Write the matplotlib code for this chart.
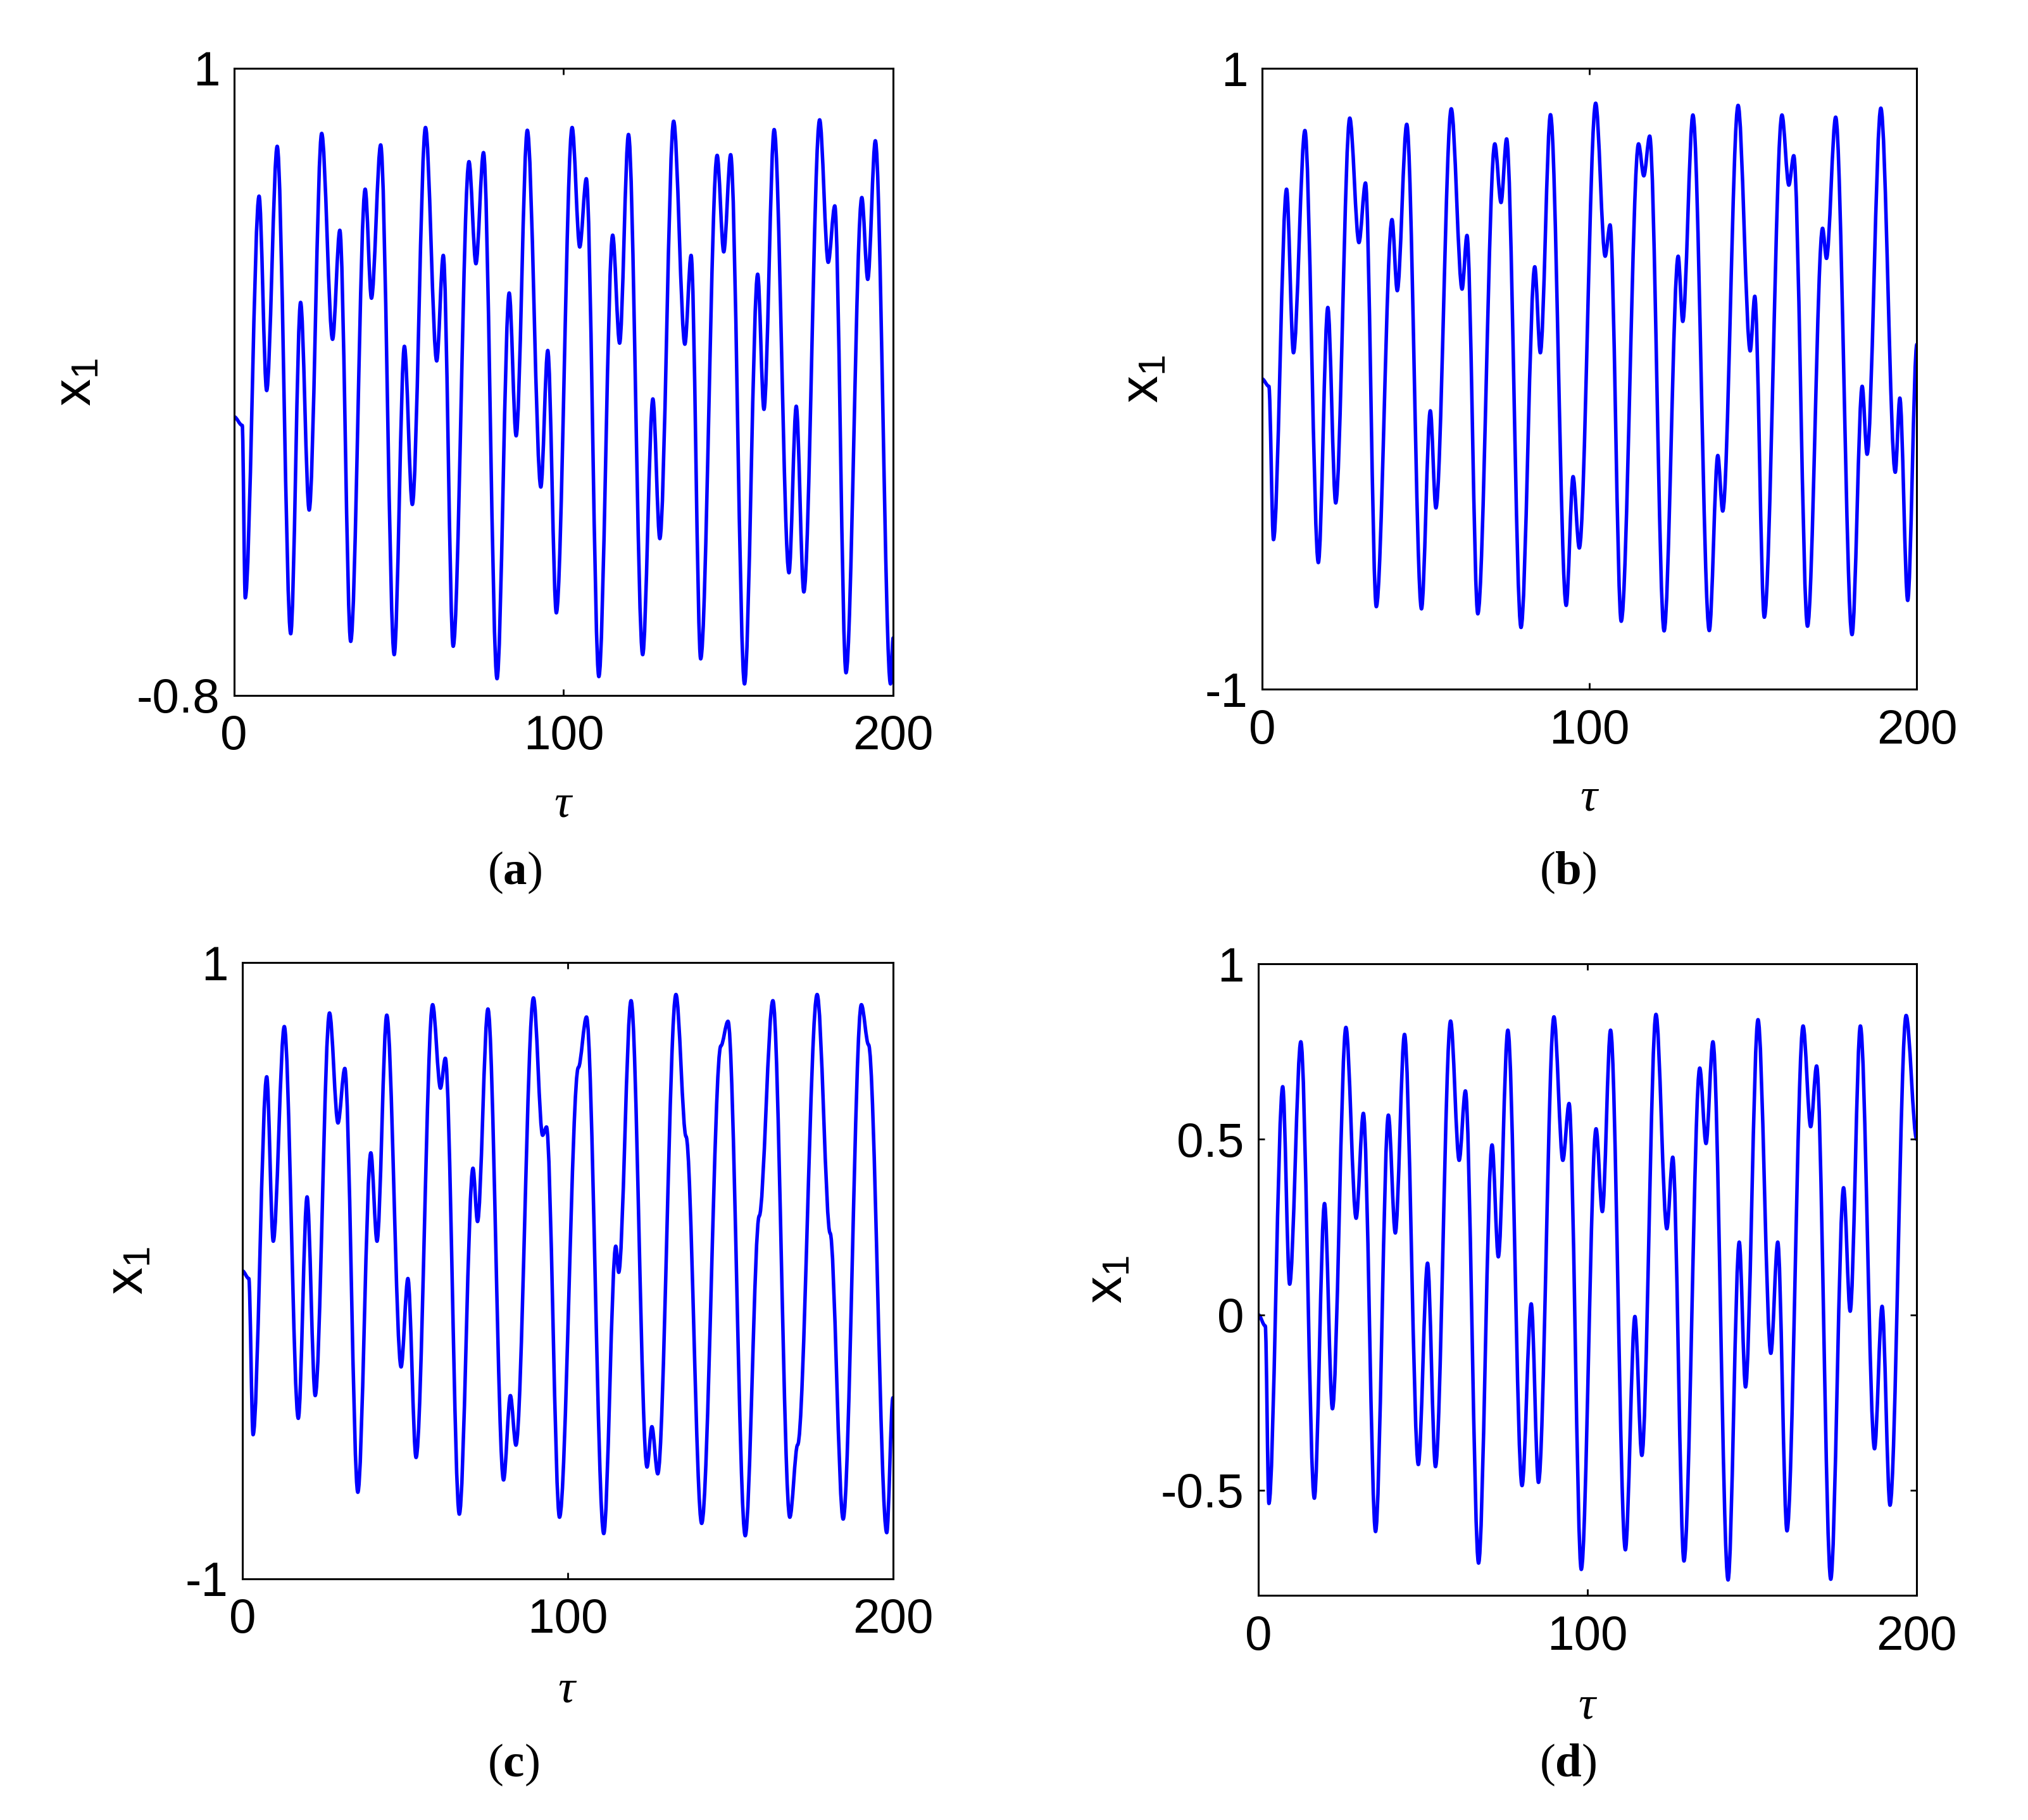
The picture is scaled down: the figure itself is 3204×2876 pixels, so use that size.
#Four panels of x1 against tau, drawn as smooth curves through the extrema.

import matplotlib
matplotlib.use('Agg')
import matplotlib.pyplot as plt
from matplotlib.path import Path
from matplotlib.patches import PathPatch

plt.rcParams['font.family'] = ['Liberation Sans', 'DejaVu Sans']
plt.rcParams['font.size'] = 27.5
plt.rcParams['axes.unicode_minus'] = False
plt.rcParams['mathtext.fontset'] = 'custom'
plt.rcParams['mathtext.rm'] = 'Liberation Serif'
plt.rcParams['mathtext.it'] = 'Liberation Serif:italic'
plt.rcParams['mathtext.bf'] = 'Liberation Serif:bold'
plt.rcParams['mathtext.sf'] = 'Liberation Sans'

#turning points (tau, x1) of each panel
tau_a = [0, 2.5, 3.4, 7.6, 9.9, 13.1, 17.2, 20.2, 22.8, 26.6, 29.9, 32.1, 35.4, 39.8, 41.7, 44.5, 48.6, 51.7, 54.1,
         58.1, 61.5, 63.5, 66.5, 71.3, 73.4, 75.7, 79.8, 83.5, 85.6, 89.0, 93.1, 95.2, 97.8, 102.6, 104.9, 106.9,
         110.7, 114.9, 117.0, 119.7, 124.0, 127.1, 129.2, 133.4, 136.8, 138.7, 141.6, 146.6, 148.6, 150.7, 154.9,
         158.9, 160.8, 163.9, 168.4, 170.6, 172.9, 177.7, 180.3, 182.3, 185.7, 190.5, 192.3, 194.6, 199.2, 200]
x1_a = [0.0, -0.025, -0.52, 0.633, 0.075, 0.776, -0.623, 0.328, -0.268, 0.813, 0.222, 0.535, -0.645, 0.653, 0.34,
        0.78, -0.683, 0.202, -0.252, 0.83, 0.16, 0.463, -0.659, 0.732, 0.439, 0.758, -0.752, 0.355, -0.055, 0.822,
        -0.202, 0.19, -0.563, 0.83, 0.487, 0.683, -0.746, 0.521, 0.211, 0.81, -0.683, 0.051, -0.35, 0.848, 0.208,
        0.463, -0.695, 0.75, 0.473, 0.752, -0.767, 0.409, 0.021, 0.824, -0.448, 0.03, -0.503, 0.852, 0.443, 0.605,
        -0.735, 0.629, 0.394, 0.792, -0.767, -0.635]

tau_b = [0, 2.1, 3.5, 7.5, 9.6, 13.1, 17.2, 20.1, 22.5, 26.8, 29.6, 31.6, 34.9, 39.7, 41.3, 44.2, 48.7, 51.4, 53.1,
         57.8, 61.1, 62.6, 65.9, 71.1, 73.0, 74.7, 79.1, 83.3, 85.0, 88.1, 92.9, 95.0, 96.9, 101.9, 104.8, 106.3,
         109.7, 115.0, 116.6, 118.4, 122.8, 127.1, 128.5, 131.6, 136.6, 139.2, 140.7, 145.4, 149.1, 150.5, 153.4,
         158.8, 160.9, 162.4, 166.6, 171.2, 172.4, 175.2, 180.2, 183.3, 184.8, 189.0, 193.4, 194.8, 197.2, 200]
x1_b = [0.0, -0.024, -0.518, 0.611, 0.084, 0.8, -0.592, 0.23, -0.4, 0.84, 0.439, 0.631, -0.734, 0.513, 0.284, 0.82,
        -0.741, -0.103, -0.416, 0.87, 0.289, 0.462, -0.757, 0.757, 0.568, 0.773, -0.801, 0.361, 0.084, 0.851, -0.73,
        -0.315, -0.545, 0.888, 0.395, 0.496, -0.781, 0.757, 0.654, 0.782, -0.812, 0.395, 0.185, 0.85, -0.811,
        -0.247, -0.426, 0.881, 0.09, 0.266, -0.768, 0.85, 0.624, 0.719, -0.797, 0.485, 0.388, 0.843, -0.824,
        -0.024, -0.243, 0.872, -0.301, -0.062, -0.714, 0.111]

tau_c = [0, 2.0, 3.3, 7.5, 9.5, 12.9, 17.2, 19.9, 22.4, 26.8, 29.4, 31.5, 35.5, 39.5, 41.4, 44.4, 48.8, 50.9, 53.4,
         58.5, 60.9, 62.4, 66.7, 70.9, 72.3, 75.5, 80.3, 82.4, 84.1, 89.5, 92.3, 93.5, 97.5, 103.3, 105.8, 111.1,
         114.8, 115.7, 119.5, 124.4, 125.9, 127.7, 133.3, 136.4, 141.2, 147.1, 149.3, 154.6, 158.9, 163.1, 168.3,
         170.7, 176.7, 180.7, 184.7, 190.3, 192.5, 198.1, 200]
x1_c = [0.0, -0.025, -0.532, 0.63, 0.096, 0.793, -0.479, 0.24, -0.405, 0.837, 0.48, 0.657, -0.719, 0.383, 0.096,
        0.83, -0.312, -0.025, -0.606, 0.864, 0.593, 0.69, -0.79, 0.333, 0.16, 0.85, -0.679, -0.405, -0.566, 0.886,
        0.44, 0.467, -0.8, 0.66, 0.824, -0.853, 0.08, -0.005, 0.877, -0.637, -0.506, -0.659, 0.897, 0.436, -0.82,
        0.73, 0.81, -0.86, 0.178, 0.877, -0.8, -0.565, 0.897, 0.122, -0.806, 0.864, 0.734, -0.85, -0.412]

tau_d = [0, 2.1, 3.2, 7.4, 9.5, 12.9, 17.0, 20.1, 22.5, 26.6, 29.7, 31.9, 35.6, 39.5, 41.6, 44.4, 48.6, 51.4, 53.8,
         58.4, 61.0, 62.9, 66.9, 71.0, 72.9, 75.8, 80.1, 82.9, 85.1, 89.8, 92.5, 94.4, 98.1, 102.6, 104.5, 107.0,
         111.5, 114.4, 116.5, 120.8, 124.1, 125.9, 129.3, 134.1, 136.0, 138.1, 142.7, 146.1, 148.0, 151.8, 155.7,
         157.8, 160.6, 165.5, 167.8, 169.6, 173.9, 177.8, 179.8, 182.9, 187.2, 189.5, 191.9, 196.8, 200]
x1_d = [0.0, -0.032, -0.538, 0.65, 0.087, 0.778, -0.523, 0.317, -0.268, 0.819, 0.275, 0.574, -0.618, 0.569, 0.233,
        0.799, -0.427, 0.147, -0.433, 0.837, 0.44, 0.638, -0.708, 0.484, 0.165, 0.811, -0.487, 0.031, -0.478, 0.849,
        0.44, 0.602, -0.726, 0.53, 0.294, 0.811, -0.67, -0.005, -0.401, 0.856, 0.245, 0.449, -0.702, 0.703, 0.488,
        0.778, -0.756, 0.207, -0.206, 0.841, -0.11, 0.207, -0.616, 0.823, 0.536, 0.709, -0.754, 0.362, 0.01, 0.823,
        -0.382, 0.024, -0.543, 0.853, 0.5]

xticks = [0, 100, 200]
yticks_a = [-0.8, 1]
yticks_b = [-1, 1]
yticks_c = [-1, 1]
yticks_d = [-0.5, 0, 0.5, 1]
ytick_labels_a = ['-0.8', '1']
ytick_labels_b = ['-1', '1']
ytick_labels_c = ['-1', '1']
ytick_labels_d = ['-0.5', '0', '0.5', '1']
captions = ['a', 'b', 'c', 'd']


def smoothPath(t, v):
    #cubic pieces with flat tangents at every turning point
    verts = [(t[0], v[0])]
    codes = [Path.MOVETO]
    for i in range(len(t) - 1):
        d = t[i + 1] - t[i]
        verts.append((t[i] + d / 3., v[i]))
        verts.append((t[i + 1] - d / 3., v[i + 1]))
        verts.append((t[i + 1], v[i + 1]))
        codes += [Path.CURVE4] * 3
    return Path(verts, codes)


fig = plt.figure(figsize=(16.02, 14.38), dpi=200)

panels = [
    ([0.1154, 0.6179, 0.3250, 0.3446], tau_a, x1_a, (-0.8, 1), yticks_a, ytick_labels_a, -0.239, -0.193),
    ([0.6223, 0.6213, 0.3229, 0.3411], tau_b, x1_b, (-1, 1), yticks_b, ytick_labels_b, -0.181, -0.195),
    ([0.1195, 0.1325, 0.3208, 0.3385], tau_c, x1_c, (-1, 1), yticks_c, ytick_labels_c, -0.175, -0.200),
    ([0.6205, 0.1234, 0.3246, 0.3470], tau_d, x1_d, (-0.8, 1), yticks_d, ytick_labels_d, -0.229, -0.195),
]

for rect, t, v, ylim, yt, ytl, ylab_x, xlab_y in panels:
    ax = fig.add_axes(rect)
    ax.add_patch(PathPatch(smoothPath(t, v), facecolor='none', edgecolor=(0, 0, 1),
                           linewidth=2.0, capstyle='round', joinstyle='round'))
    ax.set_xlim(0, 200)
    ax.set_ylim(ylim)
    ax.set_xticks(xticks)
    ax.set_xticklabels([str(x) for x in xticks])
    ax.set_yticks(yt)
    ax.set_yticklabels(ytl)
    ax.tick_params(direction='in', top=True, right=True, length=3.6, width=1.0)
    ax.tick_params(axis='x', pad=11)
    ax.tick_params(axis='y', pad=8)
    for s in ax.spines.values():
        s.set_linewidth(1.1)
    ax.set_xlabel(r'$\tau$', fontsize=27, va='baseline')
    ax.xaxis.set_label_coords(0.5, xlab_y)
    ax.set_ylabel(r'$\mathsf{x}_\mathsf{1}$', fontsize=31, va='center')
    ax.yaxis.set_label_coords(ylab_x, 0.5)

fig.text(0.2537, 0.5205, r'$(\mathbf{a})$', fontsize=27, ha='center', va='center')
fig.text(0.7731, 0.5205, r'$(\mathbf{b})$', fontsize=27, ha='center', va='center')
fig.text(0.2531, 0.0302, r'$(\mathbf{c})$', fontsize=27, ha='center', va='center')
fig.text(0.7731, 0.0302, r'$(\mathbf{d})$', fontsize=27, ha='center', va='center')

fig.savefig('out.png', dpi=200)
plt.close()
